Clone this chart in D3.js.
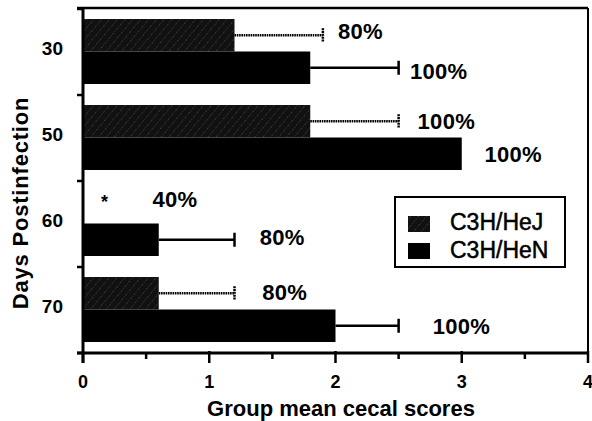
<!DOCTYPE html>
<html><head><meta charset="utf-8">
<script src="https://cdn.jsdelivr.net/npm/d3@7"></script>
<style>
html,body{margin:0;padding:0;background:#fff;}
svg{display:block;font-family:"Liberation Sans",Arial,Helvetica,sans-serif;}
</style></head>
<body><svg id="c" width="592" height="421"></svg>
<script>
// ---- data ----
const days = ["30", "50", "60", "70"];
const strains = ["C3H/HeJ", "C3H/HeN"];
const hejMeans = [1.2, 1.8, 0, 0.6];
const hejSD = [0.7, 0.7, null, 0.6];
const henMeans = [1.8, 3.0, 0.6, 2.0];
const henSD = [0.7, null, 0.6, 0.5];
const hejLabels = ["80%", "100%", "40%", "80%"];
const henLabels = ["100%", "100%", "80%", "100%"];
const hejLabelAt = [2.02, 2.65, 0.55, 1.42];
const henLabelAt = [2.59, 3.18, 1.40, 2.77];
const hejMarks = ["", "", "*", ""];
const xTicks = [0, 1, 2, 3, 4];
const xMinorTicks = [0.5, 1.5, 2.5, 3.5];

// ---- layout ----
const svg = d3.select("#c");
const L = 83, R = 588, T = 9, B = 353;
const x = d3.scaleLinear().domain([0, 4]).range([L, R]);
const y = d3.scaleBand().domain(days).range([T, B]).paddingInner(0).paddingOuter(0);
const inner = d3.scaleBand().domain(strains).range([10, 75]);

const defs = svg.append("defs");
const pat = defs.append("pattern").attr("id", "hatch").attr("patternUnits", "userSpaceOnUse")
  .attr("width", 6).attr("height", 6).attr("patternTransform", "rotate(40)");
pat.append("rect").attr("width", 6).attr("height", 6).attr("fill", "#111");
pat.append("line").attr("x1", 0).attr("y1", 0).attr("x2", 0).attr("y2", 6)
  .attr("stroke", "#7a7a7a").attr("stroke-width", 0.8).attr("stroke-dasharray", "1,1.6");

const rows = days.map((d, i) => ({
  day: d,
  series: [
    {s: strains[0], v: hejMeans[i], sd: hejSD[i], lab: hejLabels[i], at: hejLabelAt[i], mark: hejMarks[i]},
    {s: strains[1], v: henMeans[i], sd: henSD[i], lab: henLabels[i], at: henLabelAt[i], mark: ""}
  ]
}));
const labelDy = {"30|C3H/HeJ": -4, "30|C3H/HeN": 3, "60|C3H/HeJ": -8, "60|C3H/HeN": -3, "70|C3H/HeJ": -1};

// frame
svg.append("line").attr("x1", 77).attr("x2", R).attr("y1", T - 1).attr("y2", T - 1)
  .attr("stroke", "#000").attr("stroke-width", 2.5);
svg.append("line").attr("x1", R).attr("x2", R).attr("y1", T - 1).attr("y2", B)
  .attr("stroke", "#000").attr("stroke-width", 2);

const g = svg.selectAll("g.row").data(rows).join("g").attr("class", "row")
  .attr("transform", d => `translate(0,${y(d.day)})`);

g.each(function(row) {
  const gg = d3.select(this);
  row.series.forEach(s => {
    const y0 = inner(s.s), h = inner.bandwidth(), cy = y0 + h / 2;
    const isJ = s.s === strains[0];
    if (s.v > 0) {
      gg.append("rect").attr("x", x(0)).attr("y", y0).attr("width", x(s.v) - x(0)).attr("height", h)
        .attr("fill", isJ ? "url(#hatch)" : "#000");
    }
    if (s.sd != null) {
      const xe = x(s.v + s.sd);
      gg.append("line").attr("x1", x(s.v)).attr("x2", xe).attr("y1", cy).attr("y2", cy)
        .attr("stroke", "#000").attr("stroke-width", isJ ? 2.6 : 2.3)
        .attr("stroke-dasharray", isJ ? "1.6,0.7" : null);
      gg.append("line").attr("x1", xe).attr("x2", xe).attr("y1", cy - 7).attr("y2", cy + 7)
        .attr("stroke", "#000").attr("stroke-width", 2.5)
        .attr("stroke-dasharray", isJ ? "2,0.8" : null);
    }
    const dy = labelDy[row.day + "|" + s.s] || 0;
    if (s.mark) {
      gg.append("text").attr("x", x(0.17)).attr("y", cy + dy - 4).attr("dy", "0.7em")
        .attr("text-anchor", "middle").attr("font-size", 18).attr("font-weight", "bold").text(s.mark);
    }
    gg.append("text").attr("x", x(s.at)).attr("y", cy + dy).attr("dy", "0.36em")
      .attr("font-size", 22).attr("font-weight", "bold").attr("letter-spacing", 0.3).text(s.lab);
  });
});

// x axis
const xAxis = svg.append("g").attr("transform", `translate(0,${B})`);
xAxis.append("line").attr("x1", L - 6).attr("x2", R + 1).attr("y1", 0).attr("y2", 0)
  .attr("stroke", "#000").attr("stroke-width", 3);
xAxis.selectAll("line.maj").data(xTicks).join("line").attr("class", "maj")
  .attr("x1", d => x(d)).attr("x2", d => x(d)).attr("y1", -2).attr("y2", 10)
  .attr("stroke", "#000").attr("stroke-width", 2.5);
xAxis.selectAll("line.min").data(xMinorTicks).join("line").attr("class", "min")
  .attr("x1", d => x(d)).attr("x2", d => x(d)).attr("y1", 0).attr("y2", 6)
  .attr("stroke", "#000").attr("stroke-width", 2.5);
xAxis.selectAll("text").data(xTicks).join("text")
  .attr("x", d => x(d)).attr("y", 35).attr("text-anchor", "middle")
  .attr("font-size", 18).attr("font-weight", "bold").text(d => d);

// y axis
const yAxis = svg.append("g").attr("transform", `translate(${L},0)`);
yAxis.append("line").attr("x1", 0).attr("x2", 0).attr("y1", T - 2).attr("y2", B + 10)
  .attr("stroke", "#000").attr("stroke-width", 3);
const yBounds = days.map(d => y(d)).concat([B]);
yAxis.selectAll("line.t").data(yBounds).join("line").attr("class", "t")
  .attr("x1", -6).attr("x2", 0).attr("y1", d => d).attr("y2", d => d)
  .attr("stroke", "#000").attr("stroke-width", 2.5);
yAxis.selectAll("text").data(days).join("text")
  .attr("x", -20).attr("y", d => y(d) + y.bandwidth() / 2 - 3.5).attr("dy", "0.36em")
  .attr("text-anchor", "end").attr("font-size", 19).attr("font-weight", "bold").text(d => d);

// axis titles
svg.append("text").attr("x", 341).attr("y", 416).attr("text-anchor", "middle")
  .attr("font-size", 22).attr("font-weight", "bold").text("Group mean cecal scores");
svg.append("text").attr("transform", "translate(28,203) rotate(-90)").attr("text-anchor", "middle")
  .attr("font-size", 22).attr("font-weight", "bold").attr("letter-spacing", 0.8).text("Days Postinfection");

// legend
const lg = svg.append("g").attr("transform", "translate(395,197)");
lg.append("rect").attr("width", 170).attr("height", 70).attr("fill", "#fff")
  .attr("stroke", "#000").attr("stroke-width", 2);
strains.forEach((s, i) => {
  lg.append("rect").attr("x", 13).attr("y", 19 + i * 27).attr("width", 22).attr("height", 16)
    .attr("fill", i === 0 ? "url(#hatch)" : "#000");
  lg.append("text").attr("x", 55).attr("y", 33 + i * 28).attr("font-size", 23)
    .attr("stroke", "#000").attr("stroke-width", 0.5).text(s);
});
</script></body></html>
